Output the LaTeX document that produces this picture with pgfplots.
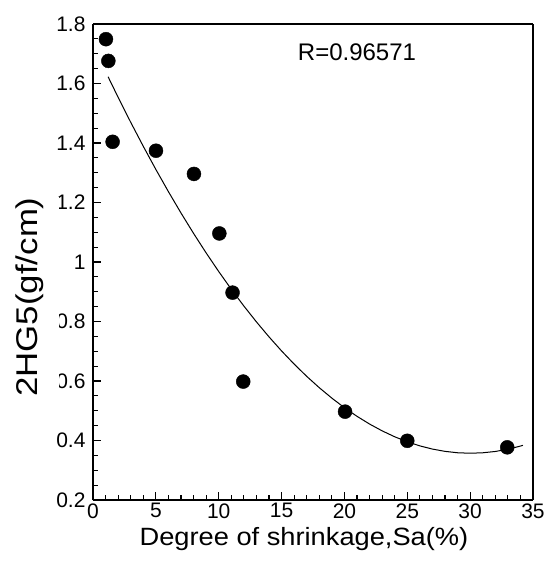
\documentclass[border=0pt]{standalone}
\usepackage{fontspec}
\setmainfont{Liberation Sans}
\newfontfamily\xlabfont[FakeStretch=1.09]{Liberation Sans}
\newfontfamily\ylabfont[FakeStretch=1.16]{Liberation Sans}
\usepackage{pgfplots}
\pgfplotsset{compat=1.18}
\begin{document}
\begin{tikzpicture}
\begin{axis}[
  at={(93pt,68pt)}, anchor=south west,
  scale only axis, width=440pt, height=476pt,
  xmin=0, xmax=35, ymin=0.2, ymax=1.8,
  xtick={0,5,10,15,20,25,30,35},
  ytick={0.2,0.4,0.6,0.8,1,1.2,1.4,1.6,1.8},
  minor x tick num=4, minor y tick num=3,
  tick pos=left, tick align=inside,
  major tick length=8pt, minor tick length=5pt,
  every tick/.style={line width=1.1pt, black},
  separate axis lines,
  every outer x axis line/.append style={line width=2.6pt},
  every outer y axis line/.append style={line width=2.6pt},
  ticklabel style={font=\fontsize{21}{21}\selectfont},
  /pgf/number format/assume math mode=true,
  yticklabel style={xshift=-4pt},
  xlabel={Degree of shrinkage,Sa(\%)},
  xlabel style={at={(axis description cs:0.4795,-0.0966)}, anchor=base,
    font=\xlabfont\fontsize{25}{25}\selectfont, inner sep=0pt},
]
\addplot[black, line width=1pt] table {
x y
1.2 1.6227
2 1.5535
3 1.4696
4 1.3888
5 1.3111
6 1.2364
7 1.1647
8 1.0961
9 1.0305
10 0.9680
11 0.9085
12 0.8521
13 0.7987
14 0.7484
15 0.7011
16 0.6568
17 0.6156
18 0.5775
19 0.5424
20 0.5103
21 0.4813
22 0.4553
23 0.4324
24 0.4125
25 0.3957
26 0.3819
27 0.3712
28 0.3635
29 0.3588
30 0.3572
31 0.3587
32 0.3631
33 0.3707
34 0.3813
34.2 0.3838
};
\addplot[only marks, mark=*, mark size=7pt, black] table {
x y
1.03 1.749
1.22 1.676
1.56 1.404
5.01 1.374
8.03 1.296
10.05 1.096
11.1 0.897
11.95 0.598
20.05 0.497
25.0 0.399
32.95 0.377
};
\node[font=\fontsize{24}{24}\selectfont] at (axis cs:21,1.706) {R=0.96571};
\end{axis}
\node[rotate=90, anchor=base, fill=white, inner xsep=0pt, inner ysep=16pt,
  font=\ylabfont\fontsize{30}{30}\selectfont] at (37pt,271pt) {2HG5(gf/cm)};
\pgfresetboundingbox
\path[use as bounding box] (0,0) rectangle (554pt,568pt);
\end{tikzpicture}
\end{document}
